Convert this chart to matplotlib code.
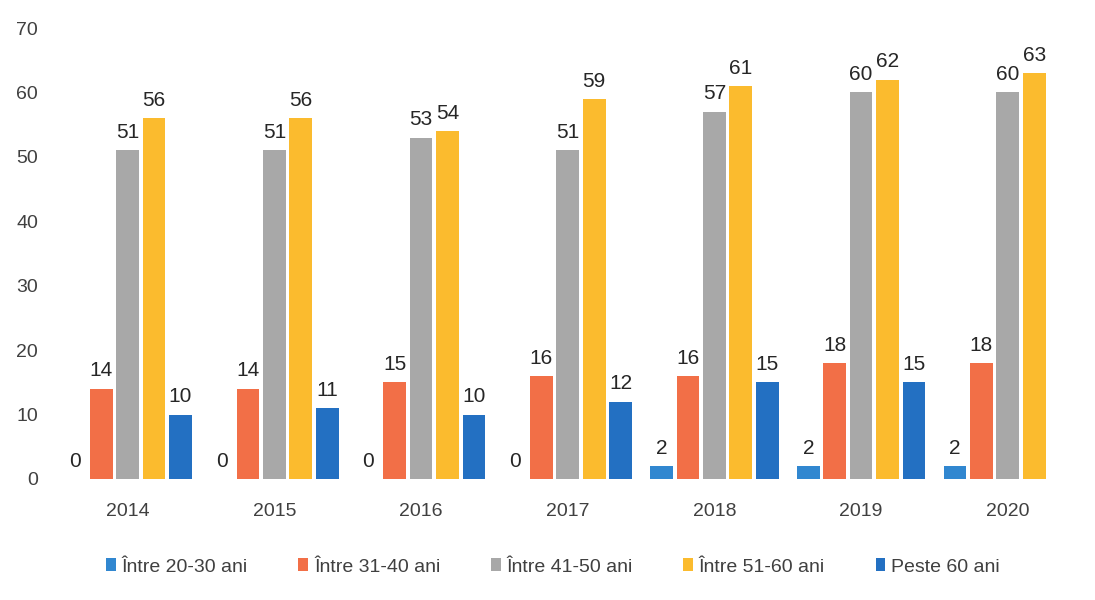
import numpy as np
import matplotlib
matplotlib.use("Agg")
import matplotlib.pyplot as plt

plt.rcParams['font.family'] = ['Liberation Sans', 'DejaVu Sans']

years = ["2014", "2015", "2016", "2017", "2018", "2019", "2020"]
series_names = ["Între 20-30 ani", "Între 31-40 ani", "Între 41-50 ani",
                "Între 51-60 ani", "Peste 60 ani"]
age_20_30 = [0, 0, 0, 0, 2, 2, 2]
age_31_40 = [14, 14, 15, 16, 16, 18, 18]
age_41_50 = [51, 51, 53, 51, 57, 60, 60]
age_51_60 = [56, 56, 54, 59, 61, 62, 63]
age_60_plus = [10, 11, 10, 12, 15, 15, None]  # no bar for 2020

colors = ["#3187d0", "#f26f47", "#a8a8a8", "#fbbb2e", "#2370c2"]
all_series = [age_20_30, age_31_40, age_41_50, age_51_60, age_60_plus]

fig = plt.figure(figsize=(10.95, 6), dpi=100)
ax = fig.add_axes([0.055, 0.2017, 0.927, 0.7516])

x = np.arange(len(years))
step = 0.18
width = 0.155
for i, (vals, name, col) in enumerate(zip(all_series, series_names, colors)):
    pos = x + (i - 2) * step
    v = np.array([np.nan if a is None else a for a in vals], dtype=float)
    ax.bar(pos, v, width=width, color=col, label=name)
    for p, val in zip(pos, vals):
        if val is None:
            continue
        ax.annotate(str(val), (p, val), xytext=(0, 6), textcoords="offset points",
                    ha="center", va="bottom", fontsize=15, color="#262626")

ax.set_xlim(-0.46, 6.46)
ax.set_ylim(0, 70)
ax.set_yticks(range(0, 71, 10))
ax.set_xticks(x)
ax.set_xticklabels(years)
ax.tick_params(axis="both", length=0, labelsize=14, labelcolor="#404040")
ax.tick_params(axis="y", pad=16)
ax.tick_params(axis="x", pad=17)
for s in ax.spines.values():
    s.set_visible(False)

fig.legend(loc="center", bbox_to_anchor=(0.505, 0.055), ncol=5, frameon=False,
           fontsize=14, handlelength=0.5, handleheight=0.6, handletextpad=0.3,
           columnspacing=2.6, labelcolor="#404040")

fig.savefig("out.png", dpi=100)
